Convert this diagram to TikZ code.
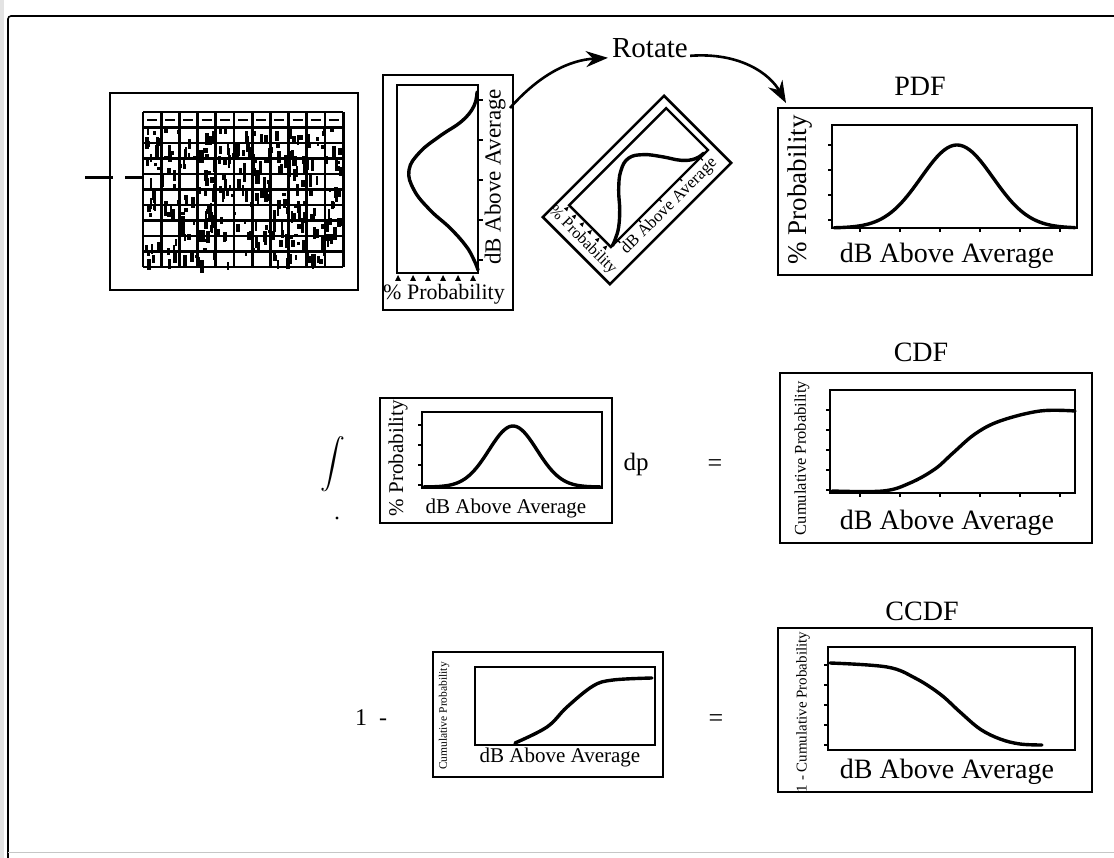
\documentclass[tikz,border=0pt]{standalone}
\usepackage{amsmath}
\usepackage{fontspec}
\setmainfont{Liberation Serif}
\usetikzlibrary{arrows.meta}
\newcommand\fs[1]{\fontsize{#1}{#1}\selectfont}

\tikzset{
  frame/.style={draw, line width=2.6pt, inner sep=0pt, outer sep=0pt, anchor=north west},
  plotframe/.style={line width=2.4pt},
  curve/.style={line width=3.4pt, line cap=round, line join=round},
  lbl/.style={inner sep=0pt},
  arr/.style={line width=2.6pt, -{Stealth[length=22pt, width=16pt]}},
  gridln/.style={line width=2.8pt},
  tick/.style={line width=1.4pt},
}

% vertical probability panel (distribution drawn sideways)
\newcommand\probpanel[1]{%
  \node[frame, minimum width=130, minimum height=235] (#1) at (383,75) {};
  \draw[plotframe] (397,85) rectangle (478,273);
  \draw[curve] plot[smooth, tension=0.7] coordinates {(477,92) (474,106) (462,121)
      (440,136) (420,152) (409,170) (414,190) (430,210) (450,228) (466,246) (474,260) (478,270)};
  \foreach \t in {398,413,428,443,458,473} \fill (\t-3,281) -- (\t,275) -- (\t+3,281) -- cycle;
  \foreach \t in {100,140,180,220,260} \draw[tick] (478,\t) -- (483,\t);
  \node[lbl, font=\fs{22}] (#1-x) at (444,294) {\% Probability};
  \node[lbl, font=\fs{23}, rotate=90] (#1-y) at (495,177) {dB Above Average};
}

\begin{document}
\begin{tikzpicture}[x=1pt, y=-1pt]
\useasboundingbox (0,0) rectangle (1114,858);

% page frame
\fill[gray!22] (0,0) rectangle (4,858);
\draw[line width=1.6pt, rounded corners=3pt] (8,858) -- (8,16) -- (1114,16);
\draw[gray!45, line width=1pt] (8,852) -- (1114,852);

% ---------- spectrum analyser display ----------
\node[frame, minimum width=248, minimum height=197] (disp) at (110,93) {};
\foreach \i in {0,...,11} \draw[gridln] (143+\i*18.2,112) -- (143+\i*18.2,267);
\foreach \j in {0,...,10} \draw[gridln] (143,112+\j*15.5) -- (343,112+\j*15.5);
\foreach \i in {0,...,10} \draw[line width=2.4pt] (147+\i*18.2,120) -- ++(10,0);
\pgfmathsetseed{11}
\foreach \k in {1,...,320}{
  \pgfmathsetmacro\rx{145+195*rnd}
  \pgfmathsetmacro\ry{128+134*rnd}
  \pgfmathsetmacro\rh{3+10*rnd}
  \pgfmathsetmacro\rw{2+2.5*rnd}
  \fill (\rx,\ry) rectangle ++(\rw,\rh);
}
\coordinate (in1) at (85,178);
\coordinate (in2) at (113,178);
\coordinate (in3) at (125,178);
\coordinate (in4) at (143,178);
\draw[line width=3pt] (in1) -- (in2);
\draw[line width=3pt] (in3) -- (in4);

% ---------- sideways distribution and its rotated copy ----------
\probpanel{vbox}
\begin{scope}[shift={(637,190)}, rotate=-45, scale=0.73, transform shape, shift={(-448,-192.5)}]
  \probpanel{tbox}
\end{scope}

% ---------- PDF ----------
\node[frame, minimum width=314, minimum height=167] (pdfbox) at (778,108) {};
\draw[plotframe] (832,125) rectangle (1077,228);
\foreach \t in {145,170,...,220} \draw[tick] (832,\t) -- (828,\t);
\foreach \t in {860,900,...,1060} \draw[tick] (\t,228) -- (\t,232);
\draw[curve] plot[domain=834:1075, samples=90] (\x, {228-83*exp(-0.5*((\x-957)/36)^2)});
\node[lbl, font=\fs{28}] (pdflab) at (920,86) {PDF};
\node[lbl, font=\fs{27}, rotate=90] (pdfy) at (800,190) {\% Probability};
\node[lbl, font=\fs{28}] (pdfx) at (947,256) {dB Above Average};

% ---------- Rotate arrows ----------
\node[lbl, font=\fs{29}] (rot) at (650,48) {Rotate};
\coordinate (a1) at (510,108);
\draw[arr] (a1) .. controls (540,74) and (570,60) .. ([shift={(-4,0)}]rot.south west);
\draw[arr] ([shift={(2,-2)}]rot.south east) .. controls (740,52) and (770,74) .. ([shift={(8,-5)}]pdfbox.north west);

% ---------- integral of the PDF ----------
\node[lbl, font=\fs{25}] (intg) at (333,464) {$\displaystyle\int$};
\fill (337,518) circle (1.6);
\node[frame, minimum width=232, minimum height=125] (sbox) at (380,398) {};
\draw[plotframe] (422,412) rectangle (602,488);
\foreach \t in {425,445,...,485} \draw[tick] (422,\t) -- (418,\t);
\draw[curve] plot[domain=424:600, samples=80] (\x, {487-61*exp(-0.5*((\x-513)/24)^2)});
\node[lbl, font=\fs{21}, rotate=90] (sboxy) at (398,458) {\% Probability};
\node[lbl, font=\fs{21}] (sboxx) at (506,508) {dB Above Average};
\node[lbl, font=\fs{25}] (dp) at (636,464) {dp};
\node[lbl, font=\fs{26}] (eq1) at (715,466) {=};

% ---------- CDF ----------
\node[frame, minimum width=312, minimum height=170] (cdfbox) at (780,373) {};
\draw[plotframe] (830,390) rectangle (1075,493);
\foreach \t in {410,430,...,490} \draw[tick] (830,\t) -- (826,\t);
\foreach \t in {860,900,...,1060} \draw[tick] (\t,493) -- (\t,497);
\draw[curve] plot[smooth, tension=0.6] coordinates {(832,491) (883,491) (910,483)
    (935,469) (953,453) (975,434) (1000,421) (1040,411) (1075,411)};
\node[lbl, font=\fs{28}] (cdflab) at (921,352) {CDF};
\node[lbl, font=\fs{16.5}, rotate=90] (cdfy) at (802,458) {Cumulative Probability};
\node[lbl, font=\fs{28}] (cdfx) at (947,523) {dB Above Average};

% ---------- one minus the CDF ----------
\node[lbl, font=\fs{24}] (one) at (371,718) {1~~-};
\node[frame, minimum width=230, minimum height=125] (cbox) at (433,652) {};
\draw[plotframe] (475,667) rectangle (655,745);
\draw[curve] plot[smooth, tension=0.6] coordinates {(515,743) (547,727) (567,707)
    (593,686) (613,680) (652,678)};
\node[lbl, font=\fs{11.5}, rotate=90] (cboxy) at (444,716) {Cumulative Probability};
\node[lbl, font=\fs{21}] (cboxx) at (560,757) {dB Above Average};
\node[lbl, font=\fs{26}] (eq2) at (716,721) {=};

% ---------- CCDF ----------
\node[frame, minimum width=314, minimum height=164] (ccdfbox) at (778,628) {};
\draw[plotframe] (828,647) rectangle (1075,750);
\foreach \t in {665,685,...,745} \draw[tick] (828,\t) -- (824,\t);
\draw[curve] plot[smooth, tension=0.6] coordinates {(830,663) (887,667) (915,678)
    (940,694) (960,712) (980,729) (1000,739) (1020,744) (1042,745)};
\node[lbl, font=\fs{28}] (ccdflab) at (922,611) {CCDF};
\node[lbl, font=\fs{15}, rotate=90] (ccdfy) at (803,712) {1 - Cumulative Probability};
\node[lbl, font=\fs{28}] (ccdfx) at (947,772) {dB Above Average};

\end{tikzpicture}
\end{document}
